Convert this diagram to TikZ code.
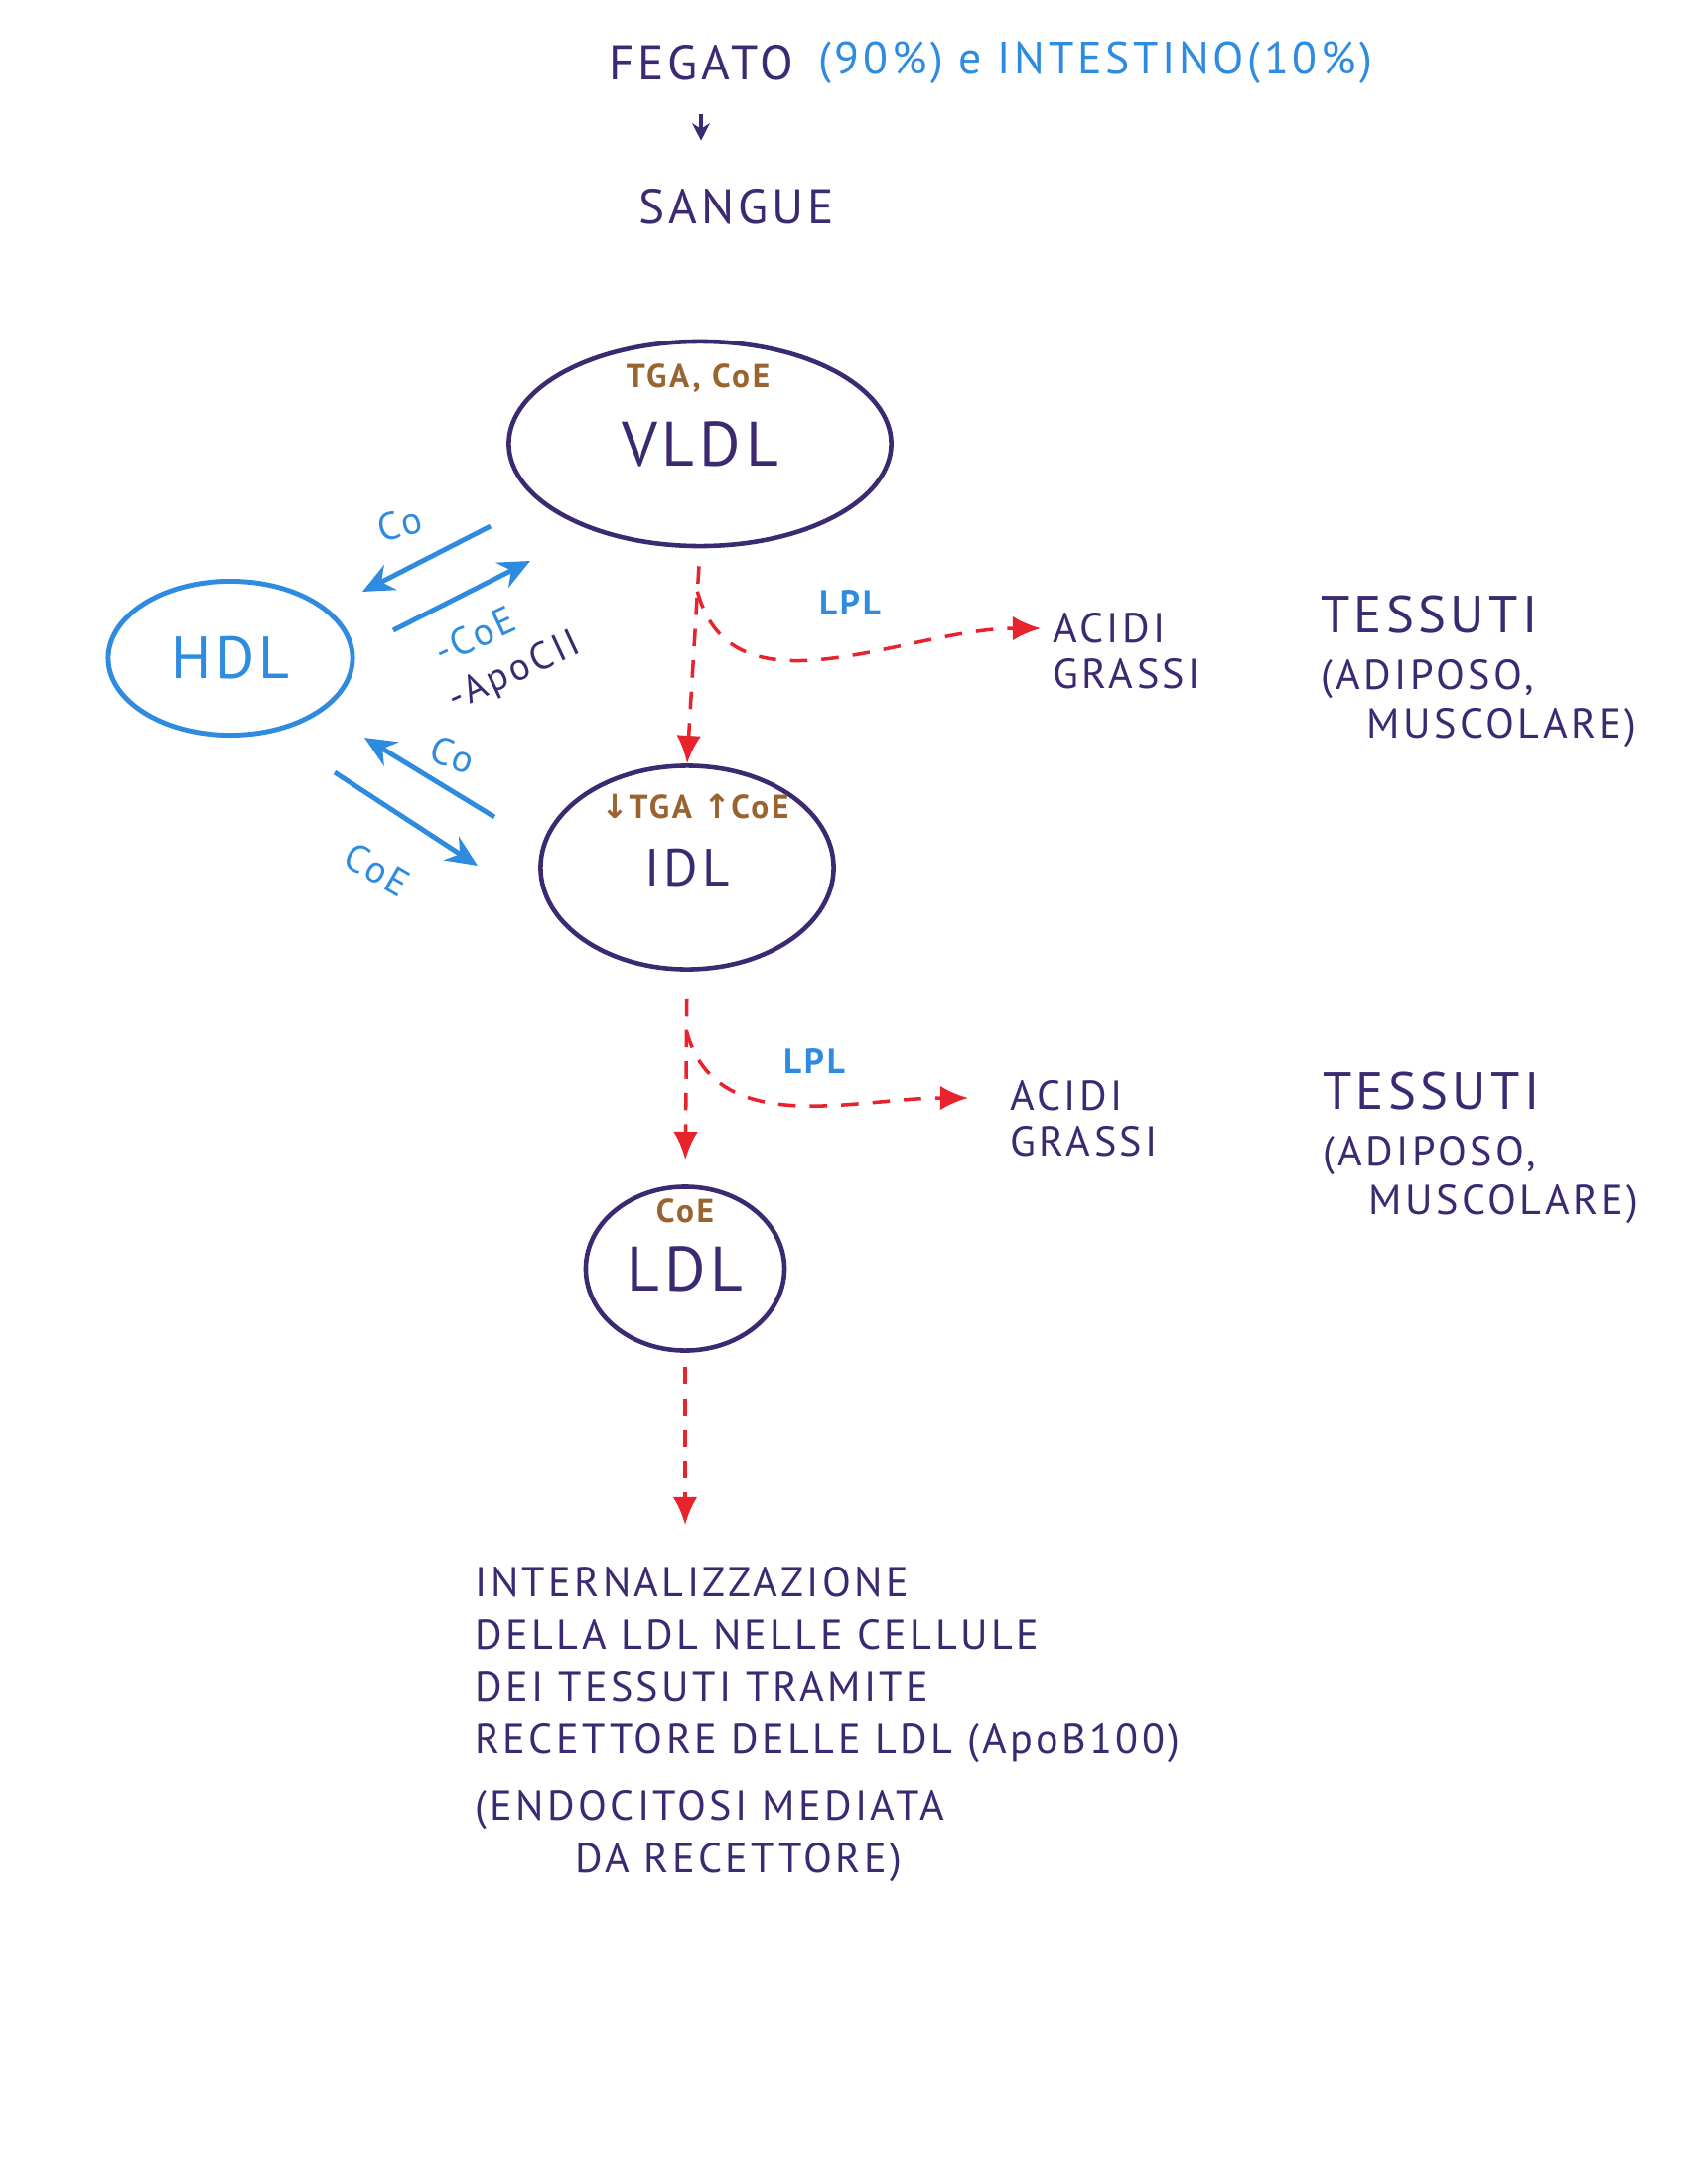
\documentclass[tikz,border=0pt]{standalone}
\usepackage{fontspec}
\setmainfont{PT Sans}[LetterSpace=8]
\newfontfamily\symbfont{DejaVu Sans}
\usepackage{xcolor}
\usepackage{tikz}
\usetikzlibrary{shapes.geometric,arrows.meta,calc}

\definecolor{ink}{HTML}{3B2A72}
\definecolor{pen}{HTML}{2E8BE0}
\definecolor{rust}{HTML}{9A6430}
\definecolor{flow}{HTML}{E8232E}

\begin{document}
\begin{tikzpicture}[x=0.01cm,y=-0.01cm,
	lipo/.style={ellipse,draw=ink,line width=1.3pt,text=ink,inner sep=0pt,font=\fontsize{18}{21}\selectfont},
	hdlshape/.style={ellipse,draw=pen,line width=1.4pt,text=pen,inner sep=0pt,font=\fontsize{17}{20}\selectfont},
	inktext/.style={text=ink,font=\fontsize{14}{17}\selectfont},
	smallink/.style={text=ink,align=left,font=\fontsize{12}{13}\selectfont},
	cargo/.style={text=rust,font=\bfseries\fontsize{9.5}{11}\selectfont},
	enzyme/.style={text=pen,font=\bfseries\fontsize{10}{12}\selectfont},
	swap/.style={text=pen,inner sep=1pt,font=\fontsize{11}{12}\selectfont},
	redflow/.style={flow,line width=1pt,dash pattern=on 5pt off 4pt,-{Latex[length=8pt,width=7pt]}},
	blueflow/.style={pen,line width=1.4pt,-{Stealth[length=9pt,width=8pt]}}]
	\useasboundingbox (0,0) rectangle (1700,2200);
	
	% origine
	\node[inktext] (fegato) at (706,63) {FEGATO};
	\node[text=pen,anchor=west,font=\fontsize{13}{16}\selectfont] (origine) at (812,63) {(90\%) e INTESTINO(10\%)};
	\node[inktext] (sangue) at (742,208) {SANGUE};
	\draw[ink,line width=1pt,-{Stealth[length=5pt,width=5pt]},shorten <=0.22cm,shorten >=0.36cm] (fegato.south) -- (fegato.south |- sangue.north);
	
	% lipoproteine
	\node[lipo,minimum width=3.85cm,minimum height=2.06cm] (vldl) at (705,447) {VLDL};
	\node[cargo] (vldlcargo) at (703,381) {TGA, CoE};
	\node[hdlshape,minimum width=2.46cm,minimum height=1.55cm] (hdl) at (232,663) {HDL};
	\node[lipo,minimum width=2.95cm,minimum height=2.05cm,font=\fontsize{15}{18}\selectfont] (idl) at (692,874) {IDL};
	\node[cargo] (idlcargo) at (700,812) {{\symbfont\bfseries ↓}TGA {\symbfont\bfseries ↑}CoE};
	\node[lipo,minimum width=2.0cm,minimum height=1.65cm] (ldl) at (690,1278) {LDL};
	\node[cargo] (ldlcargo) at (690,1220) {CoE};
	
	% VLDL -> IDL
	\draw[redflow,shorten <=0.18cm] (vldl.south) -- (idl.north);
	\coordinate (lpl1) at ($(vldl.south)!0.2!(idl.north)$);
	\node[smallink,anchor=north west] (ag1) at (1048,605) {ACIDI\\GRASSI};
	\draw[redflow] (lpl1) to[out=-75,in=180] ([yshift=-0.28cm]ag1.north west);
	\node[enzyme] (lplab1) at (856,607) {LPL};
	\node[text=ink,align=left,anchor=north west,font=\fontsize{12}{14}\selectfont] (tess1) at (1318,588)
		{{\fontsize{15}{17}\selectfont TESSUTI}\\[2pt](ADIPOSO,\\\hspace{1.1em}MUSCOLARE)};
	
	% IDL -> LDL
	\draw[redflow,shorten <=0.27cm,shorten >=0.25cm] (idl.south) -- (ldl.north);
	\coordinate (lpl2) at ($(idl.south)!0.28!(ldl.north)$);
	\node[smallink,anchor=north west] (ag2) at (1005,1076) {ACIDI\\GRASSI};
	\draw[redflow] (lpl2) to[out=-75,in=180] ([yshift=-0.3cm,xshift=-0.3cm]ag2.north west);
	\node[enzyme] (lplab2) at (820,1069) {LPL};
	\node[text=ink,align=left,anchor=north west,font=\fontsize{12}{14}\selectfont] (tess2) at (1320,1068)
		{{\fontsize{15}{17}\selectfont TESSUTI}\\[2pt](ADIPOSO,\\\hspace{1.1em}MUSCOLARE)};
	
	% scambi con HDL
	\coordinate (co1a) at (494,530);
	\coordinate (co1b) at (365,596);
	\coordinate (co2a) at (396,635);
	\coordinate (co2b) at (534,565);
	\coordinate (co3a) at (498,823);
	\coordinate (co3b) at (367,743);
	\coordinate (co4a) at (337,778);
	\coordinate (co4b) at (481,872);
	\draw[blueflow] (co1a) -- (co1b);
	\draw[blueflow] (co2a) -- (co2b);
	\draw[blueflow] (co3a) -- (co3b);
	\draw[blueflow] (co4a) -- (co4b);
	\node[swap,rotate=15] (colab1) at (403,528) {Co};
	\node[swap,rotate=25] (colab2) at (478,640) {-CoE};
	\node[swap,rotate=25,text=ink] (colab3) at (518,678) {-ApoCII};
	\node[swap,rotate=-20] (colab4) at (456,760) {Co};
	\node[swap,rotate=-30] (colab5) at (380,876) {CoE};
	
	% internalizzazione
	\node[text=ink,align=left,anchor=north west,font=\fontsize{12}{15}\selectfont] (intern) at (466,1566)
		{INTERNALIZZAZIONE\\DELLA LDL NELLE CELLULE\\DEI TESSUTI TRAMITE\\RECETTORE DELLE LDL (ApoB100)\\[4pt]
		(ENDOCITOSI MEDIATA\\\hspace{2.4em}DA RECETTORE)};
	\draw[redflow,shorten <=0.14cm,shorten >=0.3cm] (ldl.south) -- (ldl.south |- intern.north);
	
\end{tikzpicture}
\end{document}
